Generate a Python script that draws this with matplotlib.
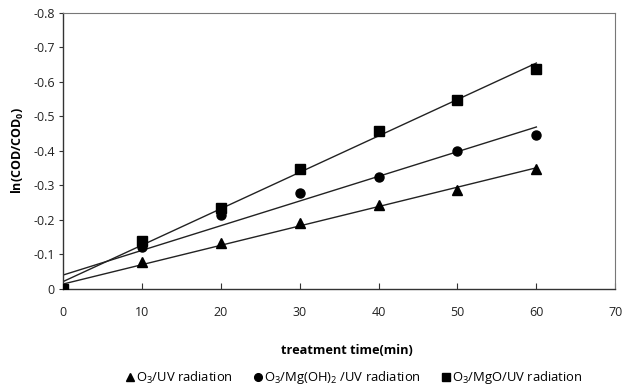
import numpy as np
import matplotlib
matplotlib.use("Agg")
import matplotlib.pyplot as plt
from matplotlib.ticker import FuncFormatter, MultipleLocator

plt.rcParams['font.family'] = ['Open Sans', 'DejaVu Sans']
plt.rcParams['mathtext.fontset'] = 'custom'
plt.rcParams['mathtext.rm'] = 'Open Sans'
plt.rcParams['mathtext.bf'] = 'Open Sans:bold'

time = [0, 10, 20, 30, 40, 50, 60]
uv = [0, -0.078, -0.133, -0.190, -0.243, -0.287, -0.348]
mgoh2 = [0, -0.122, -0.214, -0.278, -0.325, -0.400, -0.445]
mgo = [0, -0.139, -0.235, -0.348, -0.458, -0.548, -0.638]

labels = ["O$\\mathregular{_3}$/UV radiation",
          "O$\\mathregular{_3}$/Mg(OH)$\\mathregular{_2}$ /UV radiation",
          "O$\\mathregular{_3}$/MgO/UV radiation"]
markers = ['^', 'o', 's']
msizes = [7, 6.5, 6.5]

fig = plt.figure(figsize=(6.24, 3.9), dpi=100)
ax = fig.add_axes([0.101, 0.259, 0.885, 0.708])

series = [uv, mgoh2, mgo]
x = np.array(time, dtype=float)
for ys, m, ms, lab in zip(series, markers, msizes, labels):
    y = np.array(ys)
    ax.plot(x, y, linestyle='none', marker=m, markersize=ms, color='black',
            label=lab, zorder=3)
    k, b = np.polyfit(x, y, 1)
    ax.plot([x[0], x[-1]], [b, k * x[-1] + b], color='#222222', lw=1.0, zorder=2)

ax.set_xlim(0, 70)
ax.set_ylim(0, -0.8)
ax.xaxis.set_major_locator(MultipleLocator(10))
ax.yaxis.set_major_locator(MultipleLocator(0.1))
ax.yaxis.set_major_formatter(FuncFormatter(lambda v, p: '0' if abs(v) < 1e-9 else f'{v:.1f}'.replace('\u2212', '-')))
ax.tick_params(axis='x', direction='in', length=4, labelsize=9, pad=12, colors='#333333', labelcolor='#222222')
ax.tick_params(axis='y', direction='out', length=3, labelsize=9, pad=3, colors='#333333', labelcolor='#222222')
for s in ['top', 'right']:
    ax.spines[s].set_color('#777777')
for s in ['bottom', 'left']:
    ax.spines[s].set_color('#333333')
    ax.spines[s].set_linewidth(1.0)

ax.set_xlabel('treatment time(min)', fontsize=9.2, fontweight='bold')
ax.xaxis.set_label_coords(0.514, -0.2)
ax.set_ylabel('ln(COD/COD$\\mathregular{_0}$)', fontsize=9, fontweight='bold', labelpad=5)

handles, labs = ax.get_legend_handles_labels()
fig.legend(handles, labs, loc='center', bbox_to_anchor=(0.563, 0.031), ncol=3,
           frameon=False, fontsize=9.4, handletextpad=-0.3, columnspacing=1.2,
           handlelength=1.5, markerscale=0.85)

fig.savefig('out.png', dpi=100)
